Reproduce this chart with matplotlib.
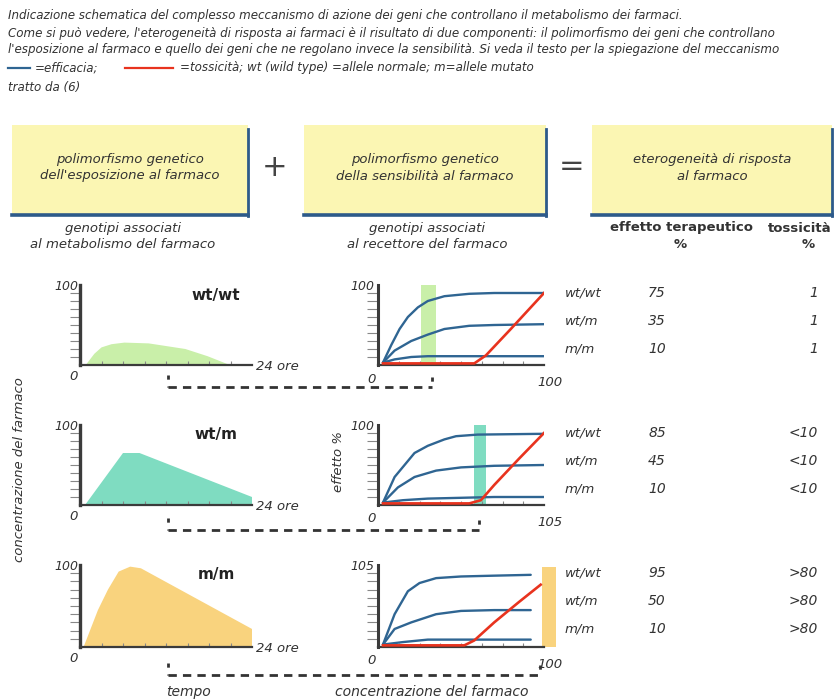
import matplotlib
matplotlib.use("Agg")
import matplotlib.pyplot as plt
from matplotlib import font_manager
from matplotlib.patches import Rectangle
from matplotlib.lines import Line2D

# ---------------- data ----------------
header_lines = [
    "Indicazione schematica del complesso meccanismo di azione dei geni che controllano il metabolismo dei farmaci.",
    "Come si può vedere, l'eterogeneità di risposta ai farmaci è il risultato di due componenti: il polimorfismo dei geni che controllano",
    "l'esposizione al farmaco e quello dei geni che ne regolano invece la sensibilità. Si veda il testo per la spiegazione del meccanismo",
]
legend_eff = "=efficacia;"
legend_tox = "=tossicità; wt (wild type) =allele normale; m=allele mutato"
source_text = "tratto da (6)"

box_texts = ["polimorfismo genetico\ndell'esposizione al farmaco",
             "polimorfismo genetico\ndella sensibilità al farmaco",
             "eterogeneità di risposta\nal farmaco"]
sub_texts = ["genotipi associati\nal metabolismo del farmaco",
             "genotipi associati\nal recettore del farmaco"]

metab_genotypes = ["wt/wt", "wt/m", "m/m"]
receptor_genotypes = ["wt/wt", "wt/m", "m/m"]

# concentration-time profiles (hours, % conc)
conc_t = [
    [0.8, 2.0, 3.0, 4.4, 6.2, 9.6, 14.7, 17.8, 20.9],
    [0.7, 6.0, 8.3, 24.0, 24.0],
    [0.5, 2.5, 3.9, 5.4, 7.0, 8.5, 24.0, 24.0],
]
conc_v = [
    [0, 14, 22, 26, 28, 27, 20, 11, 0],
    [0, 65, 65, 10, 0],
    [0, 45, 70, 92, 98, 96, 22, 0],
]

# dose-response curves (conc %, effect %) per metabolic genotype row
eff_x = [
    [[3, 8, 13, 18, 24, 30, 40, 55, 70, 100],
     [3, 10, 20, 30, 40, 55, 70, 100],
     [3, 10, 20, 30, 45, 70, 100]],
    [[3, 10, 22, 30, 40, 47, 60, 100],
     [3, 12, 22, 35, 50, 70, 100],
     [3, 15, 30, 50, 70, 100]],
    [[3, 10, 18, 25, 35, 50, 70, 92],
     [3, 10, 20, 35, 50, 70, 92],
     [3, 15, 30, 45, 70, 92]],
]
eff_y = [
    [[3, 25, 45, 60, 72, 80, 86, 89, 90, 90],
     [3, 18, 30, 38, 45, 49, 50, 51],
     [3, 7, 10, 11, 11, 11, 11]],
    [[3, 35, 65, 74, 82, 86, 88, 89],
     [3, 22, 35, 43, 47, 49, 50],
     [3, 6, 8, 9, 10, 10]],
    [[3, 40, 68, 78, 84, 86, 87, 88],
     [3, 22, 30, 40, 44, 45, 45],
     [3, 6, 9, 9, 9, 9]],
]
tox_x = [[3, 58, 65, 80, 100], [3, 55, 62, 70, 85, 100], [3, 52, 58, 70, 85, 98]]
tox_y = [[2, 2, 12, 45, 90], [2, 2, 6, 25, 58, 90], [2, 2, 8, 30, 55, 76]]

# concentration band reached in each metabolic genotype (conc %)
band_lo = [26, 58, 98.5]
band_hi = [35, 65, 107]
band_top = [100, 100, 97]

therapeutic = [["75", "35", "10"], ["85", "45", "10"], ["95", "50", "10"]]
toxicity = [["1", "1", "1"], ["<10", "<10", "<10"], [">80", ">80", ">80"]]

top_lab = ["100", "100", "105"]
right_lab = ["100", "105", "100"]

fill_colors = ["#c9efa9", "#7fdcc1", "#f9d37e"]
band_colors = ["#c9efa9", "#7fdcc1", "#f9d37e"]
blue = "#2f6592"
red = "#e8331e"
axis_col = "#3b3b3b"
text_col = "#333333"

# ---------------- fonts ----------------
avail = {f.name for f in font_manager.fontManager.ttflist}
narrow = "Liberation Sans Narrow" if "Liberation Sans Narrow" in avail else "DejaVu Sans"
plt.rcParams["font.family"] = [narrow, "DejaVu Sans"]

W, H = 834, 700
fig = plt.figure(figsize=(W / 100, H / 100), dpi=100)
fig.patch.set_facecolor("white")


def fx(x):
    return x / W


def fy(y):
    return 1 - y / H


def rect(x0, y0, x1, y1):
    return [fx(x0), fy(y1), (x1 - x0) / W, (y1 - y0) / H]


def ftext(x, y, s, **kw):
    kw.setdefault("color", text_col)
    kw.setdefault("style", "italic")
    fig.text(fx(x), fy(y), s, **kw)


def fline(xs, ys, **kw):
    fig.add_artist(Line2D([fx(v) for v in xs], [fy(v) for v in ys], **kw))


# ---------------- header ----------------
hy = [15, 33, 50]
for y, s in zip(hy, header_lines):
    ftext(8, y, s, fontsize=8.6, va="center", ha="left")
fline([8, 30], [68, 68], color=blue, lw=1.6)
ftext(35, 68, legend_eff, fontsize=8.6, va="center")
fline([125, 173], [68, 68], color=red, lw=1.6)
ftext(180, 68, legend_tox, fontsize=8.6, va="center")
ftext(8, 87, source_text, fontsize=8.6, va="center")

# ---------------- boxes ----------------
box_x = [(12, 248), (304, 546), (592, 832)]
for (x0, x1), s in zip(box_x, box_texts):
    fig.add_artist(Rectangle((fx(x0), fy(215)), (x1 - x0) / W, (215 - 125) / H,
                             facecolor="#fbf6b3", edgecolor="none"))
    fline([x1, x1], [129, 216], color="#2d5a8a", lw=2.0)
    fline([x0, x1], [215, 215], color="#2d5a8a", lw=2.6)
    ftext((x0 + x1) / 2, 168, s, fontsize=9.5, ha="center", va="center",
          linespacing=1.3)
ftext(275, 167, "+", fontsize=22, ha="center", va="center", style="normal", color="#444")
ftext(572, 167, "=", fontsize=22, ha="center", va="center", style="normal", color="#444")

ftext(123, 236, sub_texts[0], fontsize=9.5, ha="center", va="center", linespacing=1.3)
ftext(427, 236, sub_texts[1], fontsize=9.5, ha="center", va="center", linespacing=1.3)
ftext(682, 228, "effetto terapeutico", fontsize=9.5, ha="center", va="center",
      style="normal", weight="bold")
ftext(680, 244, "%", fontsize=9.5, ha="center", va="center", style="normal", weight="bold")
ftext(832, 228, "tossicità", fontsize=9.5, ha="right", va="center",
      style="normal", weight="bold")
ftext(808, 244, "%", fontsize=9.5, ha="center", va="center", style="normal", weight="bold")

# ---------------- plot rows ----------------
rows_y = [(285, 365), (425, 505), (565, 647)]
dash_y = [387, 530, 675]
dash_right = [432, 479, 540]

for i, (top, bot) in enumerate(rows_y):
    # concentration vs time
    ax = fig.add_axes(rect(80, top, 252, bot))
    ax.fill(conc_t[i], conc_v[i], color=fill_colors[i], lw=0)
    ax.set_xlim(0, 24)
    ax.set_ylim(0, 100)
    for sp in ["top", "right"]:
        ax.spines[sp].set_visible(False)
    ax.spines["left"].set_linewidth(2.4)
    ax.spines["bottom"].set_linewidth(1.6)
    ax.spines["left"].set_color(axis_col)
    ax.spines["bottom"].set_color(axis_col)
    ax.set_yticks(range(10, 100, 10))
    ax.set_xticks(range(3, 24, 3))
    ax.tick_params(axis="y", direction="out", length=7, width=0.8, color="#888",
                   labelleft=False)
    ax.tick_params(axis="x", direction="in", length=3, width=0.8, color="#888",
                   labelbottom=False)
    ax.patch.set_alpha(0)
    ftext(66, top + 2, "100", fontsize=9, ha="center", va="center")
    ftext(74, bot + 12, "0", fontsize=9.5, ha="center", va="center")
    ftext(256, bot + 2, "24 ore", fontsize=9.5, ha="left", va="center")
    ftext(216, top + 10, metab_genotypes[i], fontsize=11, ha="center", va="center",
          style="normal", weight="bold", family="DejaVu Sans", color="#222")

    # effect vs concentration
    ax2 = fig.add_axes(rect(378, top, 544, bot))
    ax2.add_patch(Rectangle((band_lo[i], 0), band_hi[i] - band_lo[i], band_top[i],
                            facecolor=band_colors[i], edgecolor="none",
                            clip_on=False, zorder=0))
    for xs, ys in zip(eff_x[i], eff_y[i]):
        ax2.plot(xs, ys, color=blue, lw=1.7, solid_capstyle="round", zorder=3)
    ax2.plot(tox_x[i], tox_y[i], color=red, lw=1.9, zorder=4)
    ax2.set_xlim(0, 100)
    ax2.set_ylim(0, 100)
    for sp in ["top", "right"]:
        ax2.spines[sp].set_visible(False)
    ax2.spines["left"].set_linewidth(2.2)
    ax2.spines["bottom"].set_linewidth(1.6)
    ax2.spines["left"].set_color(axis_col)
    ax2.spines["bottom"].set_color(axis_col)
    ax2.set_yticks(range(10, 100, 10))
    ax2.set_xticks([12.5 * k for k in range(1, 8)])
    ax2.tick_params(axis="y", direction="out", length=8, width=0.8, color="#888",
                    labelleft=False)
    ax2.tick_params(axis="x", direction="in", length=3, width=0.8, color="#888",
                    labelbottom=False)
    ax2.patch.set_alpha(0)
    ftext(362, top + 1, top_lab[i], fontsize=9, ha="center", va="center")
    ftext(372, bot + 14, "0", fontsize=9.5, ha="center", va="center")
    ftext(550, bot + 18, right_lab[i], fontsize=9.5, ha="center", va="center")

    # table
    for j in range(3):
        yy = top + 8 + j * 28
        ftext(565, yy, receptor_genotypes[j], fontsize=9.5, ha="left", va="center")
        ftext(657, yy, therapeutic[i][j], fontsize=10, ha="center", va="center")
        ftext(818, yy, toxicity[i][j], fontsize=10, ha="right", va="center")

    # dashed connector
    fline([168, dash_right[i]], [dash_y[i], dash_y[i]], color="#333", lw=2,
          dashes=(3, 2.2))
    fline([168, 168], [dash_y[i] - 12, dash_y[i]], color="#333", lw=2, dashes=(1.5, 2.5))
    fline([dash_right[i], dash_right[i]], [dash_y[i] - 10, dash_y[i]], color="#333",
          lw=2, dashes=(1.5, 2.5))

ftext(20, 470, "concentrazione del farmaco", fontsize=9.5, rotation=90,
      ha="center", va="center")
ftext(339, 462, "effetto %", fontsize=9.5, rotation=90, ha="center", va="center")
ftext(188, 692, "tempo", fontsize=10, ha="center", va="center")
ftext(432, 692, "concentrazione del farmaco", fontsize=10, ha="center", va="center")

fig.savefig("out.png", dpi=100, facecolor="white")
